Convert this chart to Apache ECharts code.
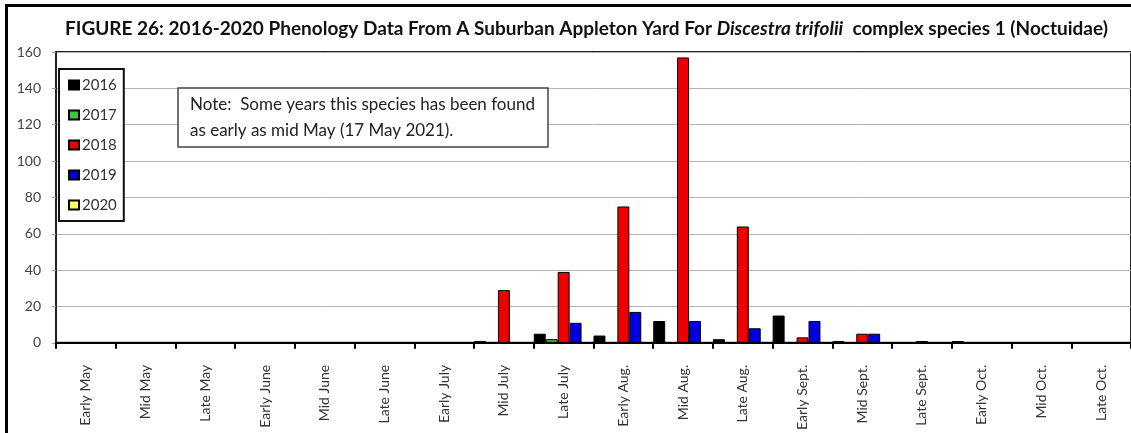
<!DOCTYPE html>
<html><head><meta charset="utf-8">
<script src="https://cdn.jsdelivr.net/npm/echarts@6/dist/echarts.min.js"></script>
<style>html,body{margin:0;padding:0;background:#fff;overflow:hidden}#c{width:1131px;height:433px}</style>
</head><body><div id="c"></div>
<script>
var categories = ['Early May','Mid May','Late May','Early June','Mid June','Late June','Early July','Mid July','Late July','Early Aug.','Mid Aug.','Late Aug.','Early Sept.','Mid Sept.','Late Sept.','Early Oct.','Mid Oct.','Late Oct.'];
var y2016 = [0,0,0,0,0,0,0,1,5,4,12,2,15,1,0,1,0,0];
var y2017 = [0,0,0,0,0,0,0,0,2,0,0,0,0,0,0,0,0,0];
var y2018 = [0,0,0,0,0,0,0,29,39,75,157,64,3,5,1,0,0,0];
var y2019 = [0,0,0,0,0,0,0,0,11,17,12,8,12,5,0,0,0,0];
var y2020 = [0,0,0,0,0,0,0,0,0,0,0,0,0,0,0,0,0,0];
var yearNames = ['2016','2017','2018','2019','2020'];
var yearColors = ['#000000','#3cc43c','#ee0000','#0000dd','#ffff55'];
var yTicks = {min:0, max:160, interval:20};

var chart = echarts.init(document.getElementById('c'));
var seriesData = [y2016,y2017,y2018,y2019,y2020];
var FONT = 'Lato';
chart.setOption({
  animation:false,
  textStyle:{fontFamily:FONT},
  title:{
    left:60, top:14,
    text:'{b|FIGURE 26: 2016-2020 Phenology Data From A Suburban Appleton Yard For }{i|Discestra trifolii}{b|  complex species 1 (Noctuidae)}',
    textStyle:{rich:{
      b:{fontFamily:FONT,fontWeight:'bold',fontSize:19,color:'#111'},
      i:{fontFamily:FONT,fontWeight:'bold',fontStyle:'italic',fontSize:19,color:'#111'}
    }}
  },
  legend:{
    orient:'vertical', left:59, top:69,
    data:yearNames,
    itemWidth:10, itemHeight:9, itemGap:12,
    icon:'rect',
    backgroundColor:'#fff',
    borderColor:'#111', borderWidth:2,
    padding:[7,7,7,9],
    textStyle:{fontSize:15,color:'#333',fontFamily:FONT,padding:[0,0,0,-2],lineHeight:18}
  },
  grid:{left:56,right:-1,top:52,bottom:87,show:true,borderColor:'#222',borderWidth:2,backgroundColor:'transparent'},
  xAxis:{
    type:'category', data:categories,
    axisLine:{lineStyle:{color:'#000',width:2}},
    axisTick:{show:true,length:6,lineStyle:{color:'#000',width:2},alignWithLabel:false},
    axisLabel:{interval:0,rotate:90,fontSize:14,color:'#333',margin:22,fontFamily:FONT}
  },
  yAxis:{
    type:'value', min:yTicks.min, max:yTicks.max, interval:yTicks.interval,
    axisLine:{show:true,lineStyle:{color:'#222',width:2}},
    axisTick:{show:true,length:4,lineStyle:{color:'#999'}},
    axisLabel:{fontSize:14,color:'#444',margin:15,fontFamily:FONT},
    splitLine:{lineStyle:{color:'#b5b5b5',width:1}}
  },
  series:yearNames.map(function(n,i){
    return {name:n,type:'bar',data:seriesData[i],barGap:'0%',barCategoryGap:'0%',
      itemStyle:{color:yearColors[i],borderColor:'#000',borderWidth:1}};
  }),
  graphic:[
    {type:'polyline',shape:{points:[[6.5,440],[6.5,5.5],[1140,5.5]]},style:{fill:null,stroke:'#000',lineWidth:3},silent:true,z:100},
    {type:'rect',shape:{x:178,y:88,width:370,height:59},style:{fill:'#fff',stroke:'#444',lineWidth:1.5},z:50},
    {type:'text',x:190,y:92,style:{text:'Note:  Some years this species has been found\nas early as mid May (17 May 2021).',fontSize:17,lineHeight:26,fill:'#222',fontFamily:FONT},z:51}
  ]
});
</script></body></html>
